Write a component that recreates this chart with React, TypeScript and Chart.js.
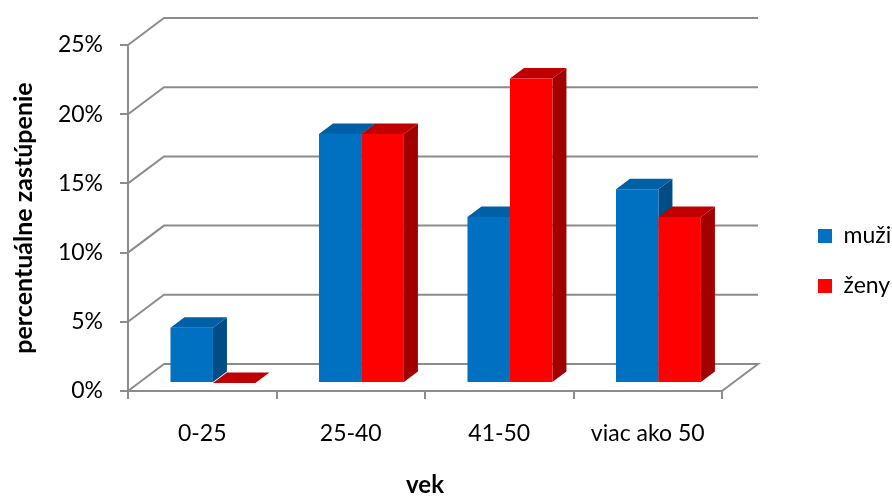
import { useEffect, useRef } from 'react';
import { Chart, registerables } from 'chart.js';

Chart.register(...registerables);

// age groups and share of each group (in %)
const ageGroups = ['0-25', '25-40', '41-50', 'viac ako 50'];
const menShare = [4, 18, 12, 14];
const womenShare = [0, 18, 22, 12];
const percentTicks = [0, 5, 10, 15, 20, 25];
const seriesNames = ['muži', 'ženy'];

const FONT = 'Lato';
const GRID = '#8c8c8c';
const FACES = [
  { front: '#0070C0', top: '#0060A6', side: '#004D86' },
  { front: '#FF0000', top: '#C00000', side: '#A00000' },
];

// oblique projection: depth of the back wall and of the bar boxes
const WALL_DX = 36;
const WALL_DY = 27;
const BAR_SHIFT_X = 10.7;
const BAR_SHIFT_Y = 8;
const BAR_DX = 14;
const BAR_DY = 10.5;

// legend box: reserved width and final placement
const LEGEND_WIDTH = 170;
const LEGEND_LEFT = 791;
const LEGEND_TOP = 197.5;

const chart3d = {
  id: 'chart3d',
  beforeLayout(chart: any) {
    const lg = chart.legend;
    if (lg && !lg.__fixedWidth) {
      const fit = lg.fit.bind(lg);
      lg.fit = () => {
        fit();
        lg.width = LEGEND_WIDTH;
      };
      lg.__fixedWidth = true;
    }
  },
  afterLayout(chart: any) {
    const lg = chart.legend;
    if (!lg) return;
    lg.left = LEGEND_LEFT;
    lg.right = chart.width;
    lg.top = LEGEND_TOP;
    lg.bottom = chart.height;
    lg.width = lg.right - lg.left;
    lg.height = lg.bottom - lg.top;
  },
  beforeDatasetsDraw(chart: any) {
    const { ctx, chartArea, scales } = chart;
    const yScale = scales.y;
    ctx.save();

    // back wall grid lines and floor outline
    ctx.strokeStyle = GRID;
    ctx.lineWidth = 2;
    ctx.lineJoin = 'miter';
    yScale.ticks.forEach((t: any) => {
      const py = yScale.getPixelForValue(t.value);
      ctx.beginPath();
      ctx.moveTo(chartArea.left, py);
      ctx.lineTo(chartArea.left + WALL_DX, py - WALL_DY);
      ctx.lineTo(chartArea.right + WALL_DX, py - WALL_DY);
      if (t.value === 0) ctx.lineTo(chartArea.right, py);
      ctx.stroke();
    });

    // bars as boxes: right side, top, then front face
    const metas = chart.data.datasets.map((_: any, i: number) => chart.getDatasetMeta(i));
    for (let j = 0; j < ageGroups.length; j++) {
      metas.forEach((meta: any, i: number) => {
        const el = meta.data[j];
        if (!el) return;
        const { x, y, base, width } = el.getProps(['x', 'y', 'base', 'width'], true);
        const f = FACES[i];
        const l = x - width / 2 + BAR_SHIFT_X;
        const r = x + width / 2 + BAR_SHIFT_X;
        const t = y - BAR_SHIFT_Y;
        const b = base - BAR_SHIFT_Y;

        ctx.fillStyle = f.side;
        ctx.beginPath();
        ctx.moveTo(r, t);
        ctx.lineTo(r + BAR_DX, t - BAR_DY);
        ctx.lineTo(r + BAR_DX, b - BAR_DY);
        ctx.lineTo(r, b);
        ctx.closePath();
        ctx.fill();

        ctx.fillStyle = f.top;
        ctx.beginPath();
        ctx.moveTo(l, t);
        ctx.lineTo(l + BAR_DX, t - BAR_DY);
        ctx.lineTo(r + BAR_DX, t - BAR_DY);
        ctx.lineTo(r, t);
        ctx.closePath();
        ctx.fill();

        ctx.fillStyle = f.front;
        ctx.fillRect(l, t, r - l, b - t);
      });
    }
    ctx.restore();
    return false;
  },
};

export default function App() {
  const canvasRef = useRef<HTMLCanvasElement | null>(null);

  useEffect(() => {
    if (!canvasRef.current) return;
    const chart = new Chart(canvasRef.current, {
      type: 'bar',
      data: {
        labels: ageGroups,
        datasets: [
          { label: seriesNames[0], data: menShare, backgroundColor: FACES[0].front, borderWidth: 0 },
          { label: seriesNames[1], data: womenShare, backgroundColor: FACES[1].front, borderWidth: 0 },
        ],
      },
      options: {
        animation: false,
        responsive: true,
        maintainAspectRatio: false,
        events: [],
        categoryPercentage: 0.572,
        barPercentage: 1,
        layout: { padding: { top: 45, left: 0, right: 0, bottom: 0 } },
        plugins: {
          tooltip: { enabled: false },
          legend: {
            position: 'right',
            align: 'start',
            labels: {
              boxWidth: 14,
              boxHeight: 14,
              padding: 27,
              color: '#000',
              font: { family: FONT, size: 23 },
            },
          },
        },
        scales: {
          x: {
            type: 'category',
            grid: {
              display: true,
              drawOnChartArea: false,
              drawTicks: true,
              tickLength: 8,
              color: GRID,
              lineWidth: 2,
              offset: true,
            },
            border: { display: true, color: GRID, width: 2 },
            ticks: { color: '#000', padding: 21, font: { family: FONT, size: 23 }, maxRotation: 0 },
            title: {
              display: true,
              text: 'vek',
              color: '#000',
              padding: 0,
              font: { family: FONT, size: 24, weight: 'bold', lineHeight: 1 },
            },
            afterFit: (s: any) => {
              s.height = 106;
            },
          },
          y: {
            min: 0,
            max: 25,
            afterBuildTicks: (s: any) => {
              s.ticks = percentTicks.map((v) => ({ value: v }));
            },
            grid: {
              display: true,
              drawOnChartArea: false,
              drawTicks: true,
              tickLength: 8,
              color: GRID,
              lineWidth: 2,
            },
            border: { display: true, color: GRID, width: 2 },
            ticks: {
              color: '#000',
              padding: 17,
              font: { family: FONT, size: 23 },
              callback: (v: any) => `${v}%`,
            },
            title: {
              display: true,
              text: 'percentuálne zastúpenie',
              color: '#000',
              padding: { top: 9, bottom: 0 },
              font: { family: FONT, size: 25, weight: 'bold' },
            },
            afterFit: (s: any) => {
              s.width = 128;
            },
          },
        },
      },
      plugins: [chart3d],
    } as any);
    return () => chart.destroy();
  }, []);

  return (
    <div style={{ position: 'fixed', left: 0, top: 0, width: 892, height: 497, background: '#fff' }}>
      <canvas ref={canvasRef} />
    </div>
  );
}
